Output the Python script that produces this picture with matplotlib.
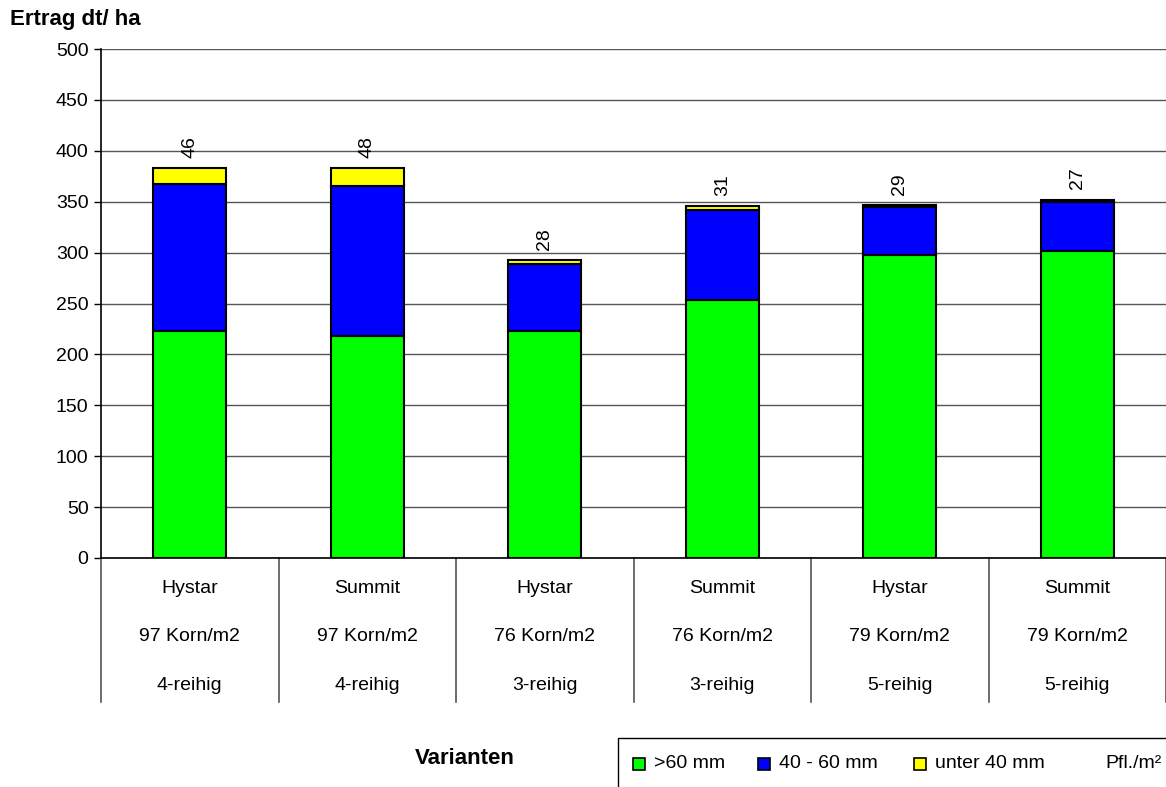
import matplotlib
matplotlib.use("Agg")
import matplotlib.pyplot as plt
from matplotlib.patches import Rectangle
import numpy as np

plt.rcParams["font.family"] = ["Liberation Sans", "DejaVu Sans"]

# Data
sorten = ["Hystar", "Summit", "Hystar", "Summit", "Hystar", "Summit"]
dichte = ["97 Korn/m2", "97 Korn/m2", "76 Korn/m2", "76 Korn/m2", "79 Korn/m2", "79 Korn/m2"]
reihen = ["4-reihig", "4-reihig", "3-reihig", "3-reihig", "5-reihig", "5-reihig"]
ueber60 = [223, 218, 223, 253, 298, 302]
mm40_60 = [144, 147, 66, 89, 47, 48]
unter40 = [16, 18, 4, 4, 2, 2]
pflanzen = [46, 48, 28, 31, 29, 27]

farben = ["#00ff00", "#0000ff", "#ffff00"]
legende = [">60 mm", "40 - 60 mm", "unter 40 mm"]

W, H = 1166, 787
fig = plt.figure(figsize=(W / 100, H / 100), dpi=100)
ax = fig.add_axes([101 / W, 1 - 558 / H, 1 - 101 / W, (558 - 49) / H])

x = np.arange(len(sorten))
w = 0.41
b1 = np.array(ueber60)
b2 = b1 + np.array(mm40_60)
ax.bar(x, ueber60, w, color=farben[0], edgecolor="black", linewidth=1.5, zorder=3)
ax.bar(x, mm40_60, w, bottom=b1, color=farben[1], edgecolor="black", linewidth=1.5, zorder=3)
ax.bar(x, unter40, w, bottom=b2, color=farben[2], edgecolor="black", linewidth=1.5, zorder=3)

tops = b2 + np.array(unter40)
for xi, t, p in zip(x, tops, pflanzen):
    ax.text(xi, t + 10, str(p), rotation=90, ha="center", va="bottom", fontsize=14)

ax.set_xlim(-0.5, len(sorten) - 0.5)
ax.set_ylim(0, 500)
ax.set_yticks(np.arange(0, 501, 50))
ax.tick_params(axis="y", labelsize=14, length=5, width=1, direction="out", pad=4)
ax.tick_params(axis="x", bottom=False, labelbottom=False)
ax.grid(axis="y", color="#555555", linewidth=1, zorder=0)
for s in ["top", "right"]:
    ax.spines[s].set_visible(False)
for s in ["left", "bottom"]:
    ax.spines[s].set_linewidth(1.2)
    ax.spines[s].set_zorder(4)

# multi-level category labels
tr = ax.get_xaxis_transform()
for xi in range(len(sorten)):
    ax.text(xi, -0.059, sorten[xi], transform=tr, ha="center", va="center", fontsize=14)
    ax.text(xi, -0.155, dichte[xi], transform=tr, ha="center", va="center", fontsize=14)
    ax.text(xi, -0.250, reihen[xi], transform=tr, ha="center", va="center", fontsize=14)
for xb in np.arange(-0.5, len(sorten)):
    ax.plot([xb, xb], [0, -0.283], transform=tr, color="#555555", linewidth=1.2, clip_on=False)

fig.text(465 / W, 1 - 758 / H, "Varianten", ha="center", va="center",
         fontsize=16, fontweight="bold")
fig.text(10 / W, 1 - 19 / H, "Ertrag dt/ ha", ha="left", va="center",
         fontsize=16, fontweight="bold")

# legend box drawn by hand, running off the right and bottom edges
fig.patches.append(Rectangle((618 / W, -0.05), 0.6, (0.05 + 1 - 738 / H), transform=fig.transFigure,
                             facecolor="white", edgecolor="black", linewidth=1))
ly = 1 - 764 / H
for px, tx, c, lab in zip([633, 758, 914], [654, 779, 935], farben, legende):
    fig.patches.append(Rectangle((px / W, ly - 6 / H), 12 / W, 12 / H, transform=fig.transFigure,
                                 facecolor=c, edgecolor="black", linewidth=1.2))
    fig.text(tx / W, ly, lab, ha="left", va="center", fontsize=14)
fig.text(1105 / W, ly, "Pfl./m²", ha="left", va="center", fontsize=14)

fig.savefig("out.png", dpi=100)
